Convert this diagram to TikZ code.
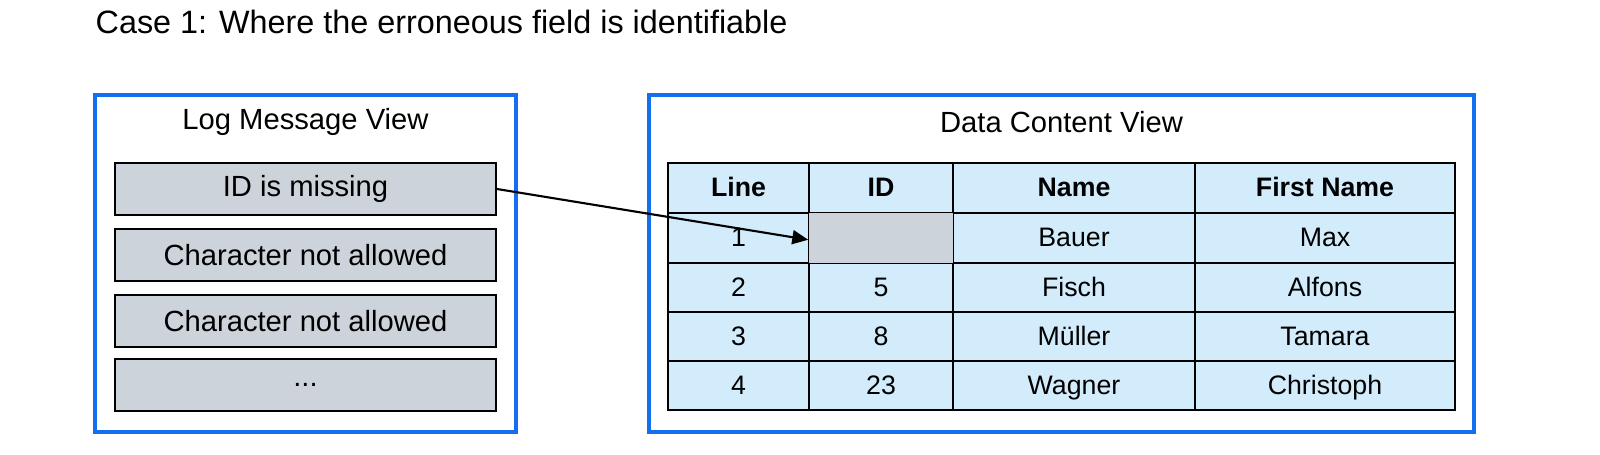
\documentclass[tikz,border=0pt]{standalone}
\usepackage{fontspec}
\setmainfont{Liberation Sans}
\usetikzlibrary{arrows.meta}
\definecolor{frameblue}{RGB}{20,110,240}
\definecolor{msggray}{RGB}{205,211,218}
\definecolor{cellblue}{RGB}{210,236,252}
\begin{document}
\begin{tikzpicture}[x=0.01cm,y=-0.01cm,
  frame/.style={draw=frameblue,line width=1.15pt,inner sep=0pt},
  msg/.style={draw=black,fill=msggray,line width=0.6pt,inner sep=0pt,minimum width=381*0.01cm,minimum height=52*0.01cm,font=\fontsize{8.3}{9}\selectfont},
  cell/.style={draw=black,fill=cellblue,line width=0.5pt,inner sep=0pt},
  ctext/.style={inner sep=0pt,text height=0.72em,text depth=0.21em,font=\fontsize{7.6}{8}\selectfont},
  htext/.style={ctext,font=\fontsize{7.6}{8}\selectfont\bfseries},
  lbl/.style={inner sep=0pt,font=\fontsize{8.3}{9}\selectfont}]
\useasboundingbox (0,0) rectangle (1600,454);
\node[inner sep=0pt,anchor=west,font=\fontsize{9.2}{10}\selectfont] (title) at (95,22) {Case 1: Where the erroneous field is identifiable};
% frames
\node[frame,minimum width=421*0.01cm,minimum height=337*0.01cm] (left) at (305.5,263.5) {};
\node[frame,minimum width=825*0.01cm,minimum height=337*0.01cm] (right) at (1061.5,263.5) {};
\node[lbl] (lt) at (305.5,122) {Log Message View};
\node[lbl] (rt) at (1061.5,122) {Data Content View};
% messages
\node[msg] (m1) at (305.5,189) {ID is missing};
\node[msg] (m2) at (305.5,255) {Character not allowed};
\node[msg] (m3) at (305.5,321) {Character not allowed};
\node[msg] (m4) at (305.5,385) {...};
% table
\foreach \ya/\yb/\r in {163/213/0,213/263/1,263/312/2,312/361/3,361/410/4}{
  \foreach \xl/\xr/\c in {668/809/1,809/953/2,953/1195/3,1195/1455/4}{
    \pgfmathsetmacro\w{(\xr-\xl)*0.01}
    \pgfmathsetmacro\h{(\yb-\ya)*0.01}
    \node[cell,minimum width=\w cm,minimum height=\h cm] (c\r\c) at ({(\xl+\xr)/2},{(\ya+\yb)/2}) {};
  }
}
\fill[msggray] ([xshift=0.3pt,yshift=-0.3pt]c12.north west) rectangle ([xshift=-0.3pt,yshift=0.3pt]c12.south east);
\node[htext] (h1) at (c01) {Line};
\node[htext] (h2) at (c02) {ID};
\node[htext] (h3) at (c03) {Name};
\node[htext] (h4) at (c04) {First Name};
\node[ctext] (t11) at (c11) {1};
\node[ctext] (t13) at (c13) {Bauer};
\node[ctext] (t14) at (c14) {Max};
\node[ctext] (t21) at (c21) {2};
\node[ctext] (t22) at (c22) {5};
\node[ctext] (t23) at (c23) {Fisch};
\node[ctext] (t24) at (c24) {Alfons};
\node[ctext] (t31) at (c31) {3};
\node[ctext] (t32) at (c32) {8};
\node[ctext] (t33) at (c33) {Müller};
\node[ctext] (t34) at (c34) {Tamara};
\node[ctext] (t41) at (c41) {4};
\node[ctext] (t42) at (c42) {23};
\node[ctext] (t43) at (c43) {Wagner};
\node[ctext] (t44) at (c44) {Christoph};
\draw[line width=0.6pt,-{Triangle[length=4.5pt,width=4pt]}] (m1.east) -- ([yshift=-0.5pt]c12.west);
\end{tikzpicture}
\end{document}
